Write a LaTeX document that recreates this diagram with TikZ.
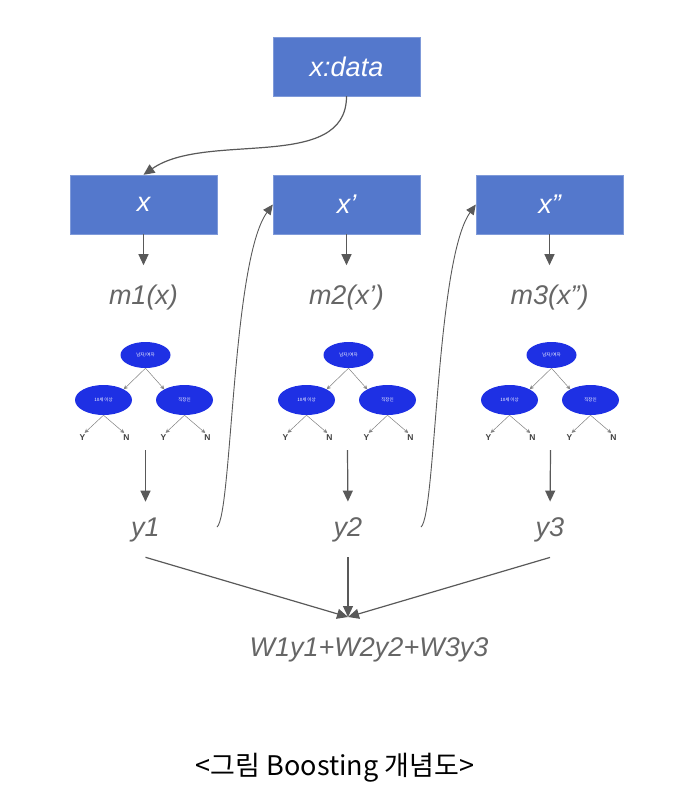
\documentclass[tikz,border=0pt]{standalone}
\usepackage{fontspec}
\setmainfont{Liberation Sans}
\newfontfamily\cjk{Noto Sans CJK KR}
\usepackage{tikz}
\definecolor{boxblue}{RGB}{84, 120, 204}
\definecolor{treeblue}{RGB}{30, 48, 228}
\definecolor{textgray}{RGB}{102, 102, 102}
\definecolor{linegray}{RGB}{89, 89, 89}
\usetikzlibrary{shapes.geometric, arrows.meta, positioning, calc}

\begin{document}
\begin{tikzpicture}[
    x=1pt, y=-1pt,
    databox/.style={rectangle, fill=boxblue, draw=boxblue!75!white, minimum width=147pt, minimum height=59pt, text=white, font=\fontsize{27}{30}\selectfont\itshape},
    lbl/.style={text=textgray, font=\fontsize{27}{30}\selectfont\itshape, inner sep=2pt},
    arr/.style={draw=linegray, line width=1.2pt, -{Triangle[width=10pt,length=11pt]}},
    thin arr/.style={draw=linegray, line width=0.9pt, -{Triangle[width=9pt,length=10pt]}},
    twig/.style={draw=gray, line width=0.5pt, -{Stealth[width=4pt,length=4pt]}},
    split/.style={ellipse, fill=treeblue, inner sep=0pt, minimum width=57pt, minimum height=30pt, text=white, font=\cjk\fontsize{4.5}{5}\selectfont},
    leaf/.style={text=black!75, font=\fontsize{8.5}{9}\selectfont\bfseries, inner sep=0pt}
]
    \useasboundingbox (0,0) rectangle (686,806);

    % input data and the three samples
    \node[databox] (data) at (346.5, 66.5) {x:data};
    \node[databox] (x1) at (143.5, 204.5) {x};
    \node[databox] (x2) at (346.5, 204.5) {x’};
    \node[databox] (x3) at (549.5, 204.5) {x”};

    \node[lbl] (m1) at (143.5, 298) {m1(x)};
    \node[lbl] (m2) at (346.5, 298) {m2(x’)};
    \node[lbl] (m3) at (549.5, 298) {m3(x”)};

    % small decision trees
    \foreach \i/\cx in {1/143.5, 2/346.5, 3/549.5} {
        \node[split, minimum width=50pt, minimum height=26pt] (r\i) at (\cx+2, 355) {남자/여자};
        \node[split] (a\i) at (\cx-40, 400) {10세 이상};
        \node[split] (b\i) at (\cx+41, 400) {직장인};
        \node[leaf] (ay\i) at (\cx-61, 438) {Y};
        \node[leaf] (an\i) at (\cx-17, 438) {N};
        \node[leaf] (by\i) at (\cx+20, 438) {Y};
        \node[leaf] (bn\i) at (\cx+64, 438) {N};
        \draw[twig] (r\i.south) -- (a\i.north east);
        \draw[twig] (r\i.south) -- (b\i.north west);
        \draw[twig, shorten >=3pt] (a\i.south) -- (ay\i.north);
        \draw[twig, shorten >=3pt] (a\i.south) -- (an\i.north);
        \draw[twig, shorten >=3pt] (b\i.south) -- (by\i.north);
        \draw[twig, shorten >=3pt] (b\i.south) -- (bn\i.north);
    }

    \node[lbl] (y1) at (145.5, 530) {y1};
    \node[lbl] (y2) at (348, 530) {y2};
    \node[lbl] (y3) at (550, 530) {y3};

    \node[lbl] (sum) at (369, 650) {W1y1+W2y2+W3y3};
    \coordinate (join) at (348, 617);
    \coordinate (back1) at (217, 527);
    \coordinate (back2) at (421, 527);

    \node[font=\cjk\fontsize{27}{30}\selectfont] (cap) at (335, 768) {<그림 Boosting 개념도>};

    % connectors
    \draw[arr] (data.south) to[out=-90, in=35, looseness=0.9] (x1.north);
    \draw[arr] (x1.south) -- ($(x1.south)+(0,31)$);
    \draw[arr] (x2.south) -- ($(x2.south)+(0,31)$);
    \draw[arr] (x3.south) -- ($(x3.south)+(0,31)$);
    \draw[arr, shorten >=14pt] ($(x1.south)+(2,216)$) -- (y1.north);
    \draw[arr, shorten >=14pt] ($(x2.south)+(1,216)$) -- (y2.north);
    \draw[arr, shorten >=14pt] ($(x3.south)+(1,216)$) -- (y3.north);
    \draw[thin arr] (back1) .. controls (232,515) and (232,260) .. (x2.west);
    \draw[thin arr] (back2) .. controls (436,515) and (436,260) .. (x3.west);
    \draw[arr] ($(y1.south)+(0,13)$) -- (join);
    \draw[arr] ($(y2.south)+(0,13)$) -- (join);
    \draw[arr] ($(y3.south)+(0,13)$) -- (join);

\end{tikzpicture}
\end{document}
